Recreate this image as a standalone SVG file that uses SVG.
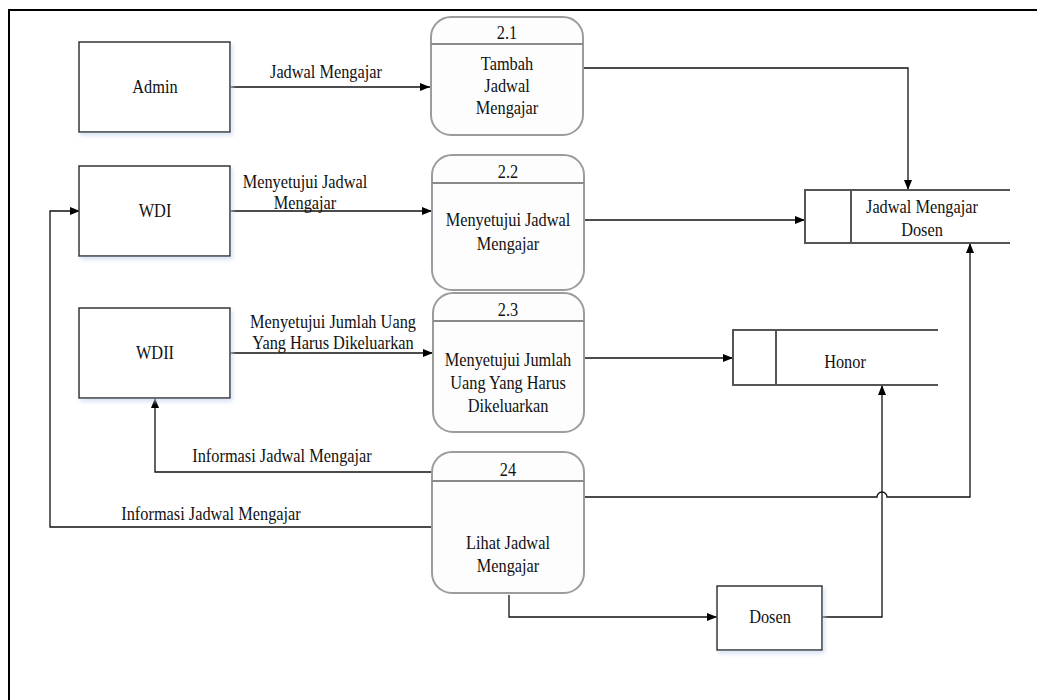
<svg xmlns="http://www.w3.org/2000/svg" width="1037" height="700" viewBox="0 0 1037 700">
<defs>
<marker id="arr" markerWidth="10" markerHeight="8" refX="10" refY="4" orient="auto" markerUnits="userSpaceOnUse">
<path d="M0,0 L10,4 L0,8 Z" fill="#000"/>
</marker>
<filter id="sh" x="-10%" y="-10%" width="130%" height="130%">
<feGaussianBlur in="SourceAlpha" stdDeviation="2"/>
<feOffset dx="2" dy="3" result="b"/>
<feFlood flood-color="#c8d8ee" flood-opacity="0.7"/>
<feComposite in2="b" operator="in"/>
<feMerge><feMergeNode/><feMergeNode in="SourceGraphic"/></feMerge>
</filter>
</defs>
<style>
text{font-family:'Liberation Serif','Times New Roman',serif;font-size:19px;fill:#111;text-anchor:middle}
.ent{fill:#fff;stroke:#333;stroke-width:1.5}
.proc{fill:#fdfdfd;stroke:#9c9c9c;stroke-width:2}
.div{stroke:#8a8a8a;stroke-width:2}
.store{fill:none;stroke:#555;stroke-width:2}
.con{fill:none;stroke:#111;stroke-width:1.3}
.frame{fill:none;stroke:#000;stroke-width:2}
</style>
<rect width="1037" height="700" fill="#fff"/>
<path class="frame" d="M9,700 V10 H1037"/>

<g id="connectors">
<path class="con" d="M230,87 H430" marker-end="url(#arr)"/>
<path class="con" d="M583,68 H908 V190" marker-end="url(#arr)"/>
<path class="con" d="M230,211 H432" marker-end="url(#arr)"/>
<path class="con" d="M584,220 H805" marker-end="url(#arr)"/>
<path class="con" d="M230,353 H433" marker-end="url(#arr)"/>
<path class="con" d="M584,358 H733" marker-end="url(#arr)"/>
<path class="con" d="M584,497 H877 A5,5 0 0 1 887,497 H970 V243" marker-end="url(#arr)"/>
<path class="con" d="M432,472 H155 V398" marker-end="url(#arr)"/>
<path class="con" d="M432,527 H50 V211 H80" marker-end="url(#arr)"/>
<path class="con" d="M509,595 V617 H717" marker-end="url(#arr)"/>
<path class="con" d="M822,617 H882 V385" marker-end="url(#arr)"/>
<text transform="matrix(0.86,0,0,1,326,78)">Jadwal Mengajar</text>
<text transform="matrix(0.86,0,0,1,305,188)">Menyetujui Jadwal</text>
<text transform="matrix(0.86,0,0,1,305,209)">Mengajar</text>
<text transform="matrix(0.86,0,0,1,333,328)">Menyetujui Jumlah Uang</text>
<text transform="matrix(0.86,0,0,1,333,349)">Yang Harus Dikeluarkan</text>
<text transform="matrix(0.86,0,0,1,282,462)">Informasi Jadwal Mengajar</text>
<text transform="matrix(0.86,0,0,1,211,520)">Informasi Jadwal Mengajar</text>
</g>

<g id="admin">
<rect class="ent" x="79" y="42" width="151" height="90" filter="url(#sh)"/>
<text transform="matrix(0.86,0,0,1,155,93)">Admin</text>
</g>
<g id="wdi">
<rect class="ent" x="79" y="166" width="151" height="90" filter="url(#sh)"/>
<text transform="matrix(0.86,0,0,1,155,217)">WDI</text>
</g>
<g id="wdii">
<rect class="ent" x="79" y="308" width="151" height="90" filter="url(#sh)"/>
<text transform="matrix(0.86,0,0,1,155,359)">WDII</text>
</g>
<g id="dosen">
<rect class="ent" x="717" y="586" width="105" height="64" filter="url(#sh)"/>
<text transform="matrix(0.86,0,0,1,770,623)">Dosen</text>
</g>

<g id="p21">
<rect class="proc" x="431" y="17" width="152" height="118" rx="20"/>
<line class="div" x1="431" y1="44" x2="583" y2="44"/>
<text transform="matrix(0.86,0,0,1,507,39)">2.1</text>
<text transform="matrix(0.86,0,0,1,507,70)">Tambah</text>
<text transform="matrix(0.86,0,0,1,507,92)">Jadwal</text>
<text transform="matrix(0.86,0,0,1,507,114)">Mengajar</text>
</g>
<g id="p22">
<rect class="proc" x="432" y="155" width="152" height="135" rx="20"/>
<line class="div" x1="432" y1="183" x2="584" y2="183"/>
<text transform="matrix(0.86,0,0,1,508,178)">2.2</text>
<text transform="matrix(0.86,0,0,1,508,226)">Menyetujui Jadwal</text>
<text transform="matrix(0.86,0,0,1,508,250)">Mengajar</text>
</g>
<g id="p23">
<rect class="proc" x="433" y="293" width="151" height="139" rx="20"/>
<line class="div" x1="433" y1="321" x2="584" y2="321"/>
<text transform="matrix(0.86,0,0,1,508,316)">2.3</text>
<text transform="matrix(0.86,0,0,1,508,366)">Menyetujui Jumlah</text>
<text transform="matrix(0.86,0,0,1,508,389)">Uang Yang Harus</text>
<text transform="matrix(0.86,0,0,1,508,412)">Dikeluarkan</text>
</g>
<g id="p24">
<rect class="proc" x="432" y="452" width="152" height="141" rx="20"/>
<line class="div" x1="432" y1="481" x2="584" y2="481"/>
<text transform="matrix(0.86,0,0,1,508,476)">24</text>
<text transform="matrix(0.86,0,0,1,508,549)">Lihat Jadwal</text>
<text transform="matrix(0.86,0,0,1,508,572)">Mengajar</text>
</g>

<g id="store-jadwal">
<path class="store" d="M1010,190 H805 V243 H1010 M851,190 V243"/>
<text transform="matrix(0.86,0,0,1,922,213)">Jadwal Mengajar</text>
<text transform="matrix(0.86,0,0,1,922,236)">Dosen</text>
</g>
<g id="store-honor">
<path class="store" d="M938,330 H733 V385 H938 M776,330 V385"/>
<text transform="matrix(0.86,0,0,1,845,368)">Honor</text>
</g>
</svg>
